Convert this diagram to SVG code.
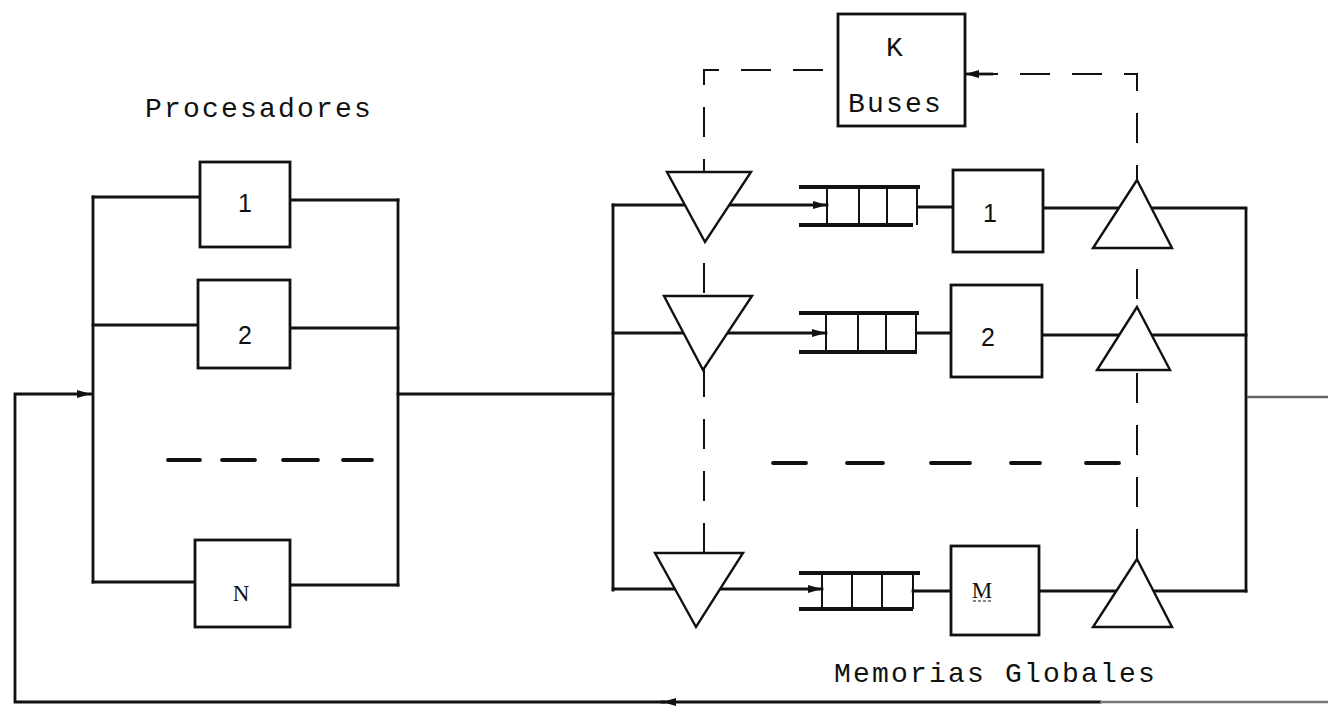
<svg xmlns="http://www.w3.org/2000/svg" width="1328" height="714" viewBox="0 0 1328 714">
<style>
.ln{stroke:#111;stroke-width:2.8;fill:none;stroke-linecap:square}
.dash{stroke:#111;stroke-width:2;fill:none;stroke-dasharray:30 22}
.dash3{stroke:#111;stroke-width:3.8;fill:none;stroke-linecap:round}
.box{fill:#fff;stroke:#111;stroke-width:2.8}
.tri{fill:#fff;stroke:#111;stroke-width:2.4;stroke-linejoin:miter}
.qb{stroke:#111;stroke-width:3.8;fill:none}
.qc{stroke:#111;stroke-width:2;fill:none}
.lbl{font-family:"Liberation Mono","Courier New",monospace;font-size:28px;letter-spacing:2.2px;fill:#111}
.num{font-family:"Liberation Sans",Arial,sans-serif;font-size:25px;fill:#111;text-anchor:middle}
.ser{font-family:"Liberation Serif","Times New Roman",serif;font-size:23px;fill:#111;text-anchor:middle}
</style>
<defs>
<marker id="ah" viewBox="0 0 14 10" refX="14" refY="5" markerWidth="14" markerHeight="10" markerUnits="userSpaceOnUse" orient="auto">
<path d="M0,1 L14,5 L0,9 Z" fill="#111"/>
</marker>
</defs>

<g id="connectors">
<path class="ln" d="M93 197 V582"/>
<path class="ln" d="M398 200 V585"/>
<path class="ln" d="M93 197 H200"/>
<path class="ln" d="M290 200 H398"/>
<path class="ln" d="M93 325 H198"/>
<path class="ln" d="M290 328 H398"/>
<path class="ln" d="M93 582 H195"/>
<path class="ln" d="M290 585 H398"/>
<path class="ln" d="M398 394 H613"/>
<path class="ln" d="M1100 702 H662" marker-end="url(#ah)"/>
<path d="M1100 702 H1328" stroke="#777" stroke-width="2.5" fill="none"/>
<path class="ln" d="M664 702 H15 V394 H91" marker-end="url(#ah)"/>
<path class="ln" d="M613 205 V590"/>
<path class="ln" d="M1246 210 V591"/>
<path class="ln" d="M613 205 H827" marker-end="url(#ah)"/>
<path class="ln" d="M918 207 H953"/>
<path class="ln" d="M1043 208 H1246"/>
<path class="ln" d="M613 333 H826" marker-end="url(#ah)"/>
<path class="ln" d="M917 333 H951"/>
<path class="ln" d="M1042 335 H1246"/>
<path class="ln" d="M613 589 H822" marker-end="url(#ah)"/>
<path class="ln" d="M913 591 H951"/>
<path class="ln" d="M1039 591 H1246"/>
<path d="M1247 397 H1328" stroke="#666" stroke-width="2.5" fill="none"/>
<path class="dash" d="M704 553 V70 H838"/>
<path class="dash" d="M1137 559 V74 H978"/>
<path class="ln" d="M992 74 H965" marker-end="url(#ah)"/>
<path class="dash3" d="M168 460 H200 M222 460 H255 M283 460 H318 M343 460 H372"/>
<path class="dash3" d="M773 463 H806 M847 463 H883 M931 463 H970 M1011 463 H1040 M1086 463 H1119"/>
</g>

<g id="kbuses">
<rect class="box" x="838" y="14" width="127" height="112"/>
<text x="886" y="56" style="font-family:'Liberation Mono','Courier New',monospace;font-size:28px;fill:#111">K</text>
<text class="lbl" x="848" y="112">Buses</text>
</g>

<g id="proc-label"><text class="lbl" x="145" y="117">Procesadores</text></g>

<g id="proc1"><rect class="box" x="200" y="162" width="90" height="85"/><text class="num" x="245" y="212">1</text></g>
<g id="proc2"><rect class="box" x="198" y="280" width="92" height="88"/><text class="num" x="245" y="344">2</text></g>
<g id="procN"><rect class="box" x="195" y="540" width="95" height="87"/><text class="ser" x="241" y="601">N</text></g>

<g id="arb1"><polygon class="tri" points="667,172 751,172 705,242"/></g>
<g id="arb2"><polygon class="tri" points="664,296 752,296 703,370"/></g>
<g id="arbM"><polygon class="tri" points="655,553 743,553 696,627"/></g>

<g id="queue1">
<path class="qb" d="M799 187 H920 M799 225 H913"/>
<path class="qc" d="M827 187 V225 M859 187 V225 M887 187 V225 M917 187 V225"/>
</g>
<g id="queue2">
<path class="qb" d="M799 313 H919 M799 352 H917"/>
<path class="qc" d="M826 313 V352 M858 313 V352 M886 313 V352 M916 313 V352"/>
</g>
<g id="queueM">
<path class="qb" d="M799 573 H920 M799 609 H913"/>
<path class="qc" d="M822 573 V609 M852 573 V609 M882 573 V609 M913 573 V609"/>
</g>

<g id="mem1"><rect class="box" x="953" y="170" width="90" height="82"/><text class="num" x="990" y="222">1</text></g>
<g id="mem2"><rect class="box" x="951" y="285" width="91" height="92"/><text class="num" x="988" y="346">2</text></g>
<g id="memM"><rect class="box" x="951" y="546" width="88" height="89"/><text class="ser" x="982" y="598">M</text><path d="M973 601 H992" stroke="#111" stroke-width="1.2" stroke-dasharray="3 2"/></g>

<g id="out1"><polygon class="tri" points="1137,180 1172,248 1093,248"/></g>
<g id="out2"><polygon class="tri" points="1137,307 1170,370 1097,370"/></g>
<g id="outM"><polygon class="tri" points="1137,559 1172,627 1093,627"/></g>

<g id="mem-label"><text class="lbl" x="834" y="682">Memorias Globales</text></g>
</svg>
